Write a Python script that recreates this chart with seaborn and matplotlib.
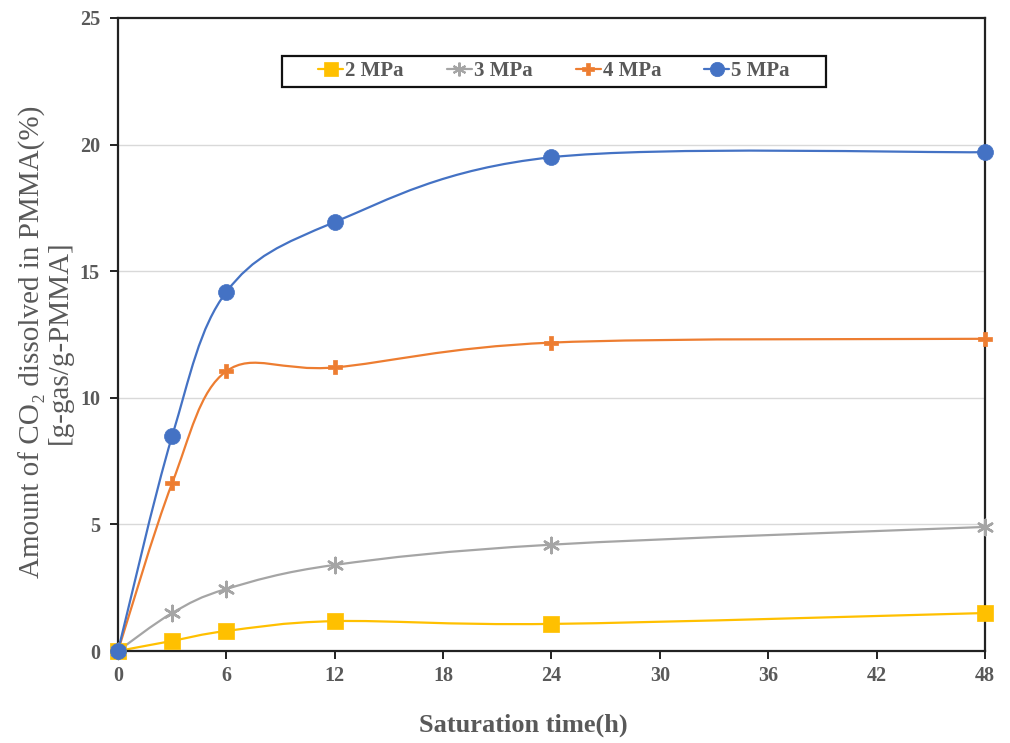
import numpy as np
import pandas as pd
import matplotlib
matplotlib.use('Agg')
import matplotlib.pyplot as plt
from matplotlib.path import Path
from matplotlib.patches import PathPatch, Rectangle
from matplotlib.lines import Line2D
import seaborn as sns

sns.set_style('white')
plt.rcParams['font.family'] = ['Liberation Serif', 'DejaVu Serif']

# values
hours = [0, 3, 6, 12, 24, 48]
mpa2 = [0, 0.40, 0.79, 1.18, 1.07, 1.50]
mpa3 = [0, 1.50, 2.45, 3.40, 4.20, 4.90]
mpa4 = [0, 6.63, 11.05, 11.20, 12.18, 12.33]
mpa5 = [0, 8.49, 14.18, 16.94, 19.50, 19.70]
labels = ['2 MPa', '3 MPa', '4 MPa', '5 MPa']

colors = ['#FFC000', '#A5A5A5', '#ED7D31', '#4472C4']
markers = ['s', (6, 2, 0), 'P', 'o']
msizes = [11, 11, 9.5, 11.5]

rows = []
for lab, vals in zip(labels, [mpa2, mpa3, mpa4, mpa5]):
    for h, v in zip(hours, vals):
        rows.append({'hours': h, 'value': v, 'series': lab})
df = pd.DataFrame(rows)

TEXT = '#595959'


def excel_smooth_path(xs, ys):
    # Excel-style smoothed line: cubic bezier segments
    pts = np.column_stack([xs, ys]).astype(float)
    n = len(pts)
    verts = [pts[0]]
    codes = [Path.MOVETO]
    for i in range(n - 1):
        p0 = pts[i - 1] if i > 0 else pts[i]
        p1 = pts[i]
        p2 = pts[i + 1]
        p3 = pts[i + 2] if i + 2 < n else pts[i + 1]
        c1 = p1 + (p2 - p0) / 6.0
        c2 = p2 - (p3 - p1) / 6.0
        verts += [c1, c2, p2]
        codes += [Path.CURVE4] * 3
    return Path(verts, codes)


fig = plt.figure(figsize=(10.1, 7.43), dpi=100)
ax = fig.add_axes([0.1168, 0.1238, 0.8584, 0.852])

for y in [5, 10, 15, 20]:
    ax.axhline(y, color='#D9D9D9', lw=1.0, zorder=0)

handles = []
for lab, col, mk, ms in zip(labels, colors, markers, msizes):
    sub = df[df['series'] == lab]
    path = excel_smooth_path(sub['hours'].values, sub['value'].values)
    ax.add_patch(PathPatch(path, facecolor='none', edgecolor=col, lw=1.6, zorder=2))
    sns.scatterplot(data=sub, x='hours', y='value', marker=mk, color=col,
                    s=ms ** 2, edgecolor=col, linewidth=1.8 if mk == (6, 2, 0) else 0.5,
                    zorder=3, clip_on=False, ax=ax, legend=False)
    handles.append(Line2D([0], [0], color=col, lw=1.6, marker=mk, markersize=ms * 0.9,
                          markeredgecolor=col, markeredgewidth=1.5 if mk == (6, 2, 0) else 0.5))

ax.set_xlim(0, 48)
ax.set_ylim(0, 25)
ax.set_xticks(range(0, 49, 6))
ax.set_yticks(range(0, 26, 5))

for s in ax.spines.values():
    s.set_color('#222222')
    s.set_linewidth(1.6)

ax.tick_params(axis='both', direction='out', length=6, width=1.4, color='#222222',
               labelsize=14.5, labelcolor=TEXT, left=True, bottom=True)
ax.tick_params(axis='x', pad=5)
ax.tick_params(axis='y', pad=7)
for t in ax.get_xticklabels() + ax.get_yticklabels():
    t.set_fontweight('bold')

ax.set_xlabel('Saturation time(h)', fontsize=19, fontweight='bold', color=TEXT,
              labelpad=20, x=0.467)
ax.set_ylabel('Amount of CO\u2082 dissolved in PMMA(%)\n[g-gas/g-PMMA]', fontsize=21,
              color=TEXT, linespacing=1.05)
ax.yaxis.set_label_coords(-0.052, 0.488)

# legend box (drawn separately for Excel-like wide padding)
ax.add_patch(Rectangle((0.189, 0.891), 0.628, 0.049, transform=ax.transAxes,
                       facecolor='white', edgecolor='#111111', lw=1.6, zorder=4))
leg = ax.legend(handles, labels, loc='center', bbox_to_anchor=(0.503, 0.9155), ncol=4,
                frameon=False, fontsize=15, handlelength=1.2, handletextpad=0.1,
                columnspacing=2.07, borderpad=0, borderaxespad=0)
leg.set_zorder(5)
for t in leg.get_texts():
    t.set_fontweight('bold')
    t.set_color(TEXT)

fig.savefig('out.png', dpi=100)
